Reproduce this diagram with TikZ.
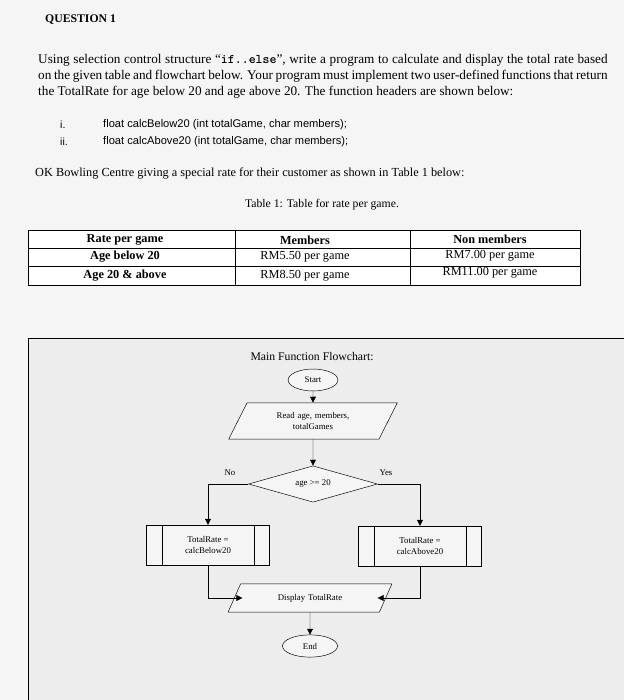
\documentclass[tikz,border=0pt]{standalone}
\usepackage{fontspec}
\setmainfont{Liberation Serif}
\newfontfamily\arialf{Liberation Sans}
\usetikzlibrary{shapes.geometric,arrows.meta}
\begin{document}
\begin{tikzpicture}[x=0.03cm,y=-0.03cm,
  txt/.style={anchor=west,inner sep=0pt,font=\fontsize{10.5}{12}\selectfont},
  fc/.style={draw,font=\fontsize{7.5}{9}\selectfont,align=center,fill=white!92!gray},
  arr/.style={-{Triangle[length=5pt,width=5pt]},thin},
  cell/.style={font=\bfseries\fontsize{10.5}{12}\selectfont,inner sep=0pt}]
\useasboundingbox (0,0) rectangle (624,700);
\fill[gray!8] (0,0) rectangle (624,700);
\node[txt,font=\bfseries\fontsize{10}{12}\selectfont] (q) at (45,20) {QUESTION 1};
\node[inner sep=0pt,anchor=north west,text width=486pt,align=justify,font=\fontsize{11.3}{13.6}\selectfont] (p) at (38,54) {Using selection control structure ``\texttt{\bfseries if..else}'', write a program to calculate and display the total rate based on the given table and flowchart below. Your program must implement two user-defined functions that return the TotalRate for age below 20 and age above 20. The function headers are shown below:};
\node[txt,font=\arialf\fontsize{9}{11}\selectfont] (i1) at (60,125) {i.};
\node[txt,font=\arialf\fontsize{9.5}{11}\selectfont] (f1) at (103,125) {float calcBelow20 (int totalGame, char members);};
\node[txt,font=\arialf\fontsize{9}{11}\selectfont] (i2) at (60,142) {ii.};
\node[txt,font=\arialf\fontsize{9.5}{11}\selectfont] (f2) at (103,142) {float calcAbove20 (int totalGame, char members);};
\node[txt] (ok) at (35,173) {OK Bowling Centre giving a special rate for their customer as shown in Table 1 below:};
\node[font=\fontsize{10}{12}\selectfont] (cap) at (322,205) {Table 1: Table for rate per game.};
% table
\draw[fill=white] (28,230) rectangle (580,285);
\draw (28,248)--(580,248) (28,266)--(580,266) (235,230)--(235,285) (410,230)--(410,285);
\node[cell] (a1) at (125,240) {Rate per game};
\node[cell] (a2) at (125,257) {Age below 20};
\node[cell] (a3) at (125,276) {Age 20 \& above};
\node[cell] (b1) at (305,240) {Members};
\node[cell,font=\fontsize{10.5}{12}\selectfont] (b2) at (305,257) {RM5.50 per game};
\node[cell,font=\fontsize{10.5}{12}\selectfont] (b3) at (305,276) {RM8.50 per game};
\node[cell] (c1) at (490,239) {Non members};
\node[cell,font=\fontsize{10.5}{12}\selectfont] (c2) at (490,256) {RM7.00 per game};
\node[cell,font=\fontsize{10.5}{12}\selectfont] (c3) at (490,273) {RM11.00 per game};
% flowchart frame
\draw[fill=gray!14] (28,338) rectangle (630,705);
\node[font=\fontsize{10}{12}\selectfont] (t) at (312,357) {Main Function Flowchart:};
\node[fc,ellipse,minimum width=42.5pt,minimum height=18.7pt,inner sep=1pt] (s) at (313,380) {Start};
\node[fc,trapezium,trapezium left angle=60,trapezium right angle=120,trapezium stretches=true,minimum width=144pt,minimum height=31pt,text width=80pt] (r) at (313,421) {Read age, members,\\ totalGames};
\node[fc,diamond,aspect=3.6,minimum width=110pt,minimum height=31pt,inner sep=1pt] (d) at (313,484) {age >= 20};
\node[fc,rectangle,minimum width=105pt,minimum height=34pt] (lb) at (208,545) {TotalRate =\\ calcBelow20};
\draw ([xshift=13.6pt]lb.north west)--([xshift=13.6pt]lb.south west) ([xshift=-13.6pt]lb.north east)--([xshift=-13.6pt]lb.south east);
\node[fc,rectangle,minimum width=105pt,minimum height=34pt] (rb) at (420,546) {TotalRate =\\ calcAbove20};
\draw ([xshift=13.6pt]rb.north west)--([xshift=13.6pt]rb.south west) ([xshift=-13.6pt]rb.north east)--([xshift=-13.6pt]rb.south east);
\node[fc,trapezium,trapezium left angle=60,trapezium right angle=120,trapezium stretches=true,minimum width=140pt,minimum height=24pt,text width=80pt] (dp) at (310,598) {Display TotalRate};
\node[fc,ellipse,minimum width=47pt,minimum height=19pt,inner sep=1pt] (e) at (310,646) {End};
\node[font=\fontsize{7.5}{8}\selectfont] (no) at (230,473) {No};
\node[font=\fontsize{7.5}{8}\selectfont] (yes) at (386,473) {Yes};
\draw[arr] (s)--(r);
\draw[arr] (r)--(d);
\draw[arr] (d.west)-|(lb.north);
\draw[arr] (d.east)-|(rb.north);
\draw[arr] (lb.south)|-([xshift=7pt]dp.west);
\draw[arr] (rb.south)|-([xshift=-7pt]dp.east);
\draw[arr] (dp)--(e);
\end{tikzpicture}
\end{document}
